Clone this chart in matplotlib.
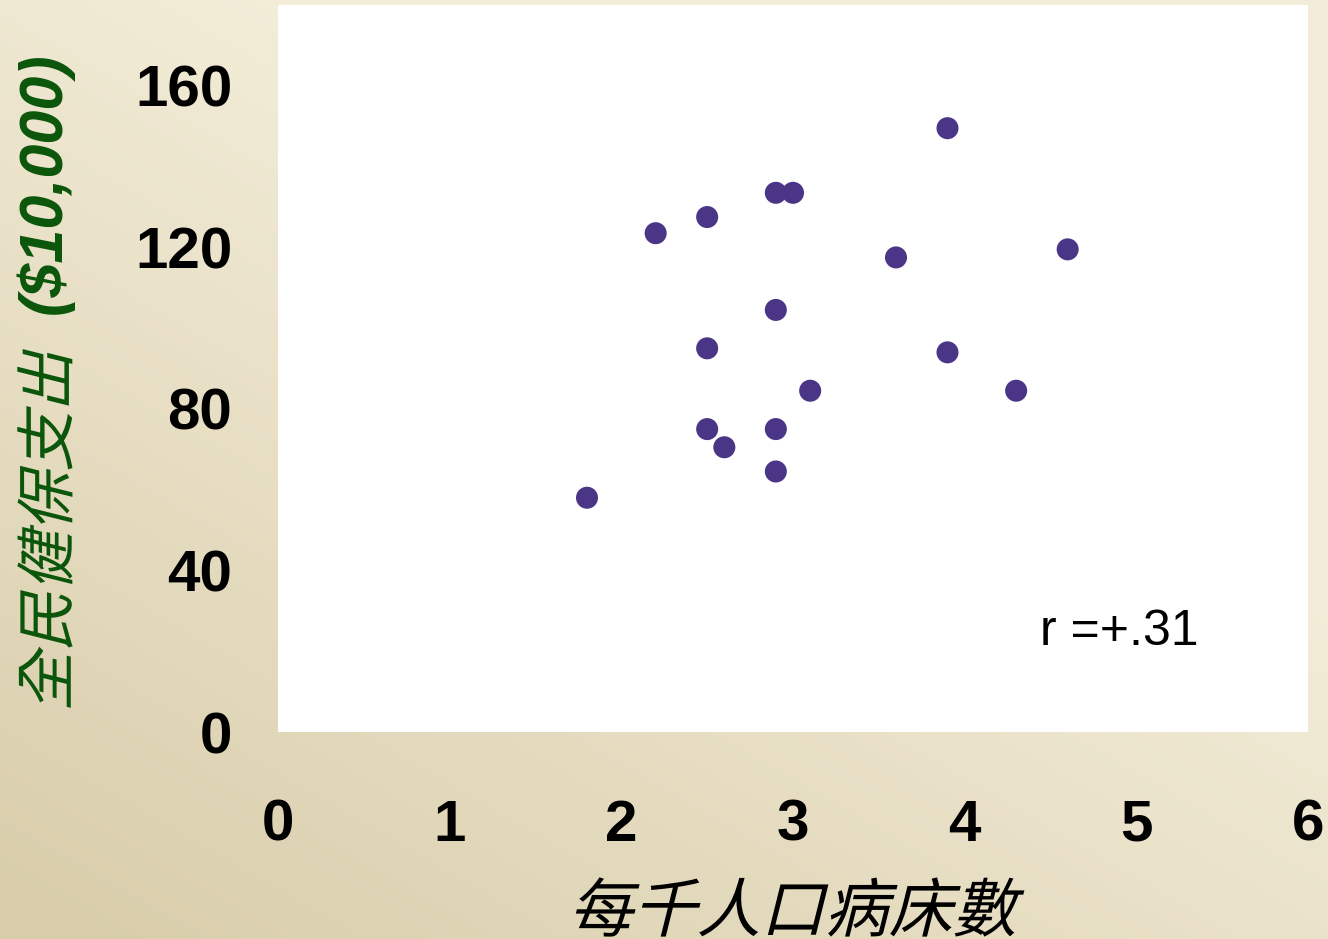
import numpy as np
import matplotlib
matplotlib.use("Agg")
import matplotlib.pyplot as plt
from matplotlib.textpath import TextPath
from matplotlib.patches import PathPatch
from matplotlib.font_manager import FontProperties
from matplotlib.transforms import Affine2D

# Hospital beds per 1000 people vs. national health insurance spending
beds_per_1000 = [1.8, 2.2, 2.5, 2.5, 2.5, 2.6, 2.9, 3.0, 2.9, 2.9, 2.9, 3.1, 3.6, 3.9, 3.9, 4.3, 4.6]
spending = [58, 123.5, 127.5, 95, 75, 70.5, 133.5, 133.5, 104.5, 75, 64.5, 84.5, 117.5, 149.5, 94, 84.5, 119.5]
x_ticks = [0, 1, 2, 3, 4, 5, 6]
y_ticks = [0, 40, 80, 120, 160]
x_label = "每千人口病床數"
y_label_cjk = "全民健保支出"
y_label_unit = "($10,000)"
r_text = "r =+.31"

W, H = 1328, 939
fig = plt.figure(figsize=(W / 100, H / 100), dpi=100)

# Diagonal beige gradient background
bg = fig.add_axes([0, 0, 1, 1], zorder=-10)
gx, gy = np.meshgrid(np.linspace(0, 1, 200), np.linspace(0, 1, 200))
t = np.clip((gx * 0.9 + gy * 1.1) / 1.3, 0, 1)  # 0 at bottom-left, 1 towards top-right
dark = np.array([0.847, 0.800, 0.663])
light = np.array([0.953, 0.929, 0.851])
img = dark[None, None, :] * (1 - t[..., None]) + light[None, None, :] * t[..., None]
bg.imshow(img, origin="lower", extent=[0, 1, 0, 1], aspect="auto", interpolation="bilinear")
bg.set_axis_off()

ax = fig.add_axes([278 / W, 1 - 732 / H, (1308 - 278) / W, (732 - 5) / H])
ax.set_facecolor("white")
ax.scatter(beds_per_1000, spending, s=22 ** 2 * 0.52, color="#4b3587", edgecolors="none", zorder=3)
ax.set_xlim(0, 6)
ax.set_ylim(0, 180)
ax.set_xticks(x_ticks)
ax.set_yticks(y_ticks)
for s in ax.spines.values():
    s.set_visible(False)
ax.tick_params(axis="both", length=0)
ax.tick_params(axis="x", pad=48)
ax.tick_params(axis="y", pad=33)
for lab in ax.get_xticklabels() + ax.get_yticklabels():
    lab.set_fontfamily("Liberation Sans")
    lab.set_fontweight("bold")
    lab.set_fontsize(42)

ax.text(4.44, 21.5, r_text, fontsize=36, family="Liberation Sans", color="black", ha="left", va="baseline")


def slanted_text(s, size_px, center_px, angle=0, color="black", skew=14):
    """Draw CJK text as a path with a synthetic italic slant, centred at a pixel position."""
    prop = FontProperties(family="Noto Sans CJK TC")
    path = TextPath((0, 0), s, size=size_px, prop=prop)
    ext = path.get_extents()
    cx, cy = (ext.x0 + ext.x1) / 2, (ext.y0 + ext.y1) / 2
    tr = (Affine2D().translate(-cx, -cy).skew_deg(skew, 0).rotate_deg(angle)
          .translate(center_px[0], H - center_px[1]))
    patch = PathPatch(path, transform=tr, facecolor=color, edgecolor="none")
    fig.add_artist(patch)


slanted_text(x_label, 64, (799, 907), color="black")
slanted_text(y_label_cjk, 60, (45, 528), angle=90, color="#0b560b")
fig.text(45 / W, 1 - 183 / H, y_label_unit, rotation=90, ha="center", va="center",
         family="Liberation Sans", weight="bold", style="italic", size=44, color="#0b560b")

fig.savefig("out.png", dpi=100)
